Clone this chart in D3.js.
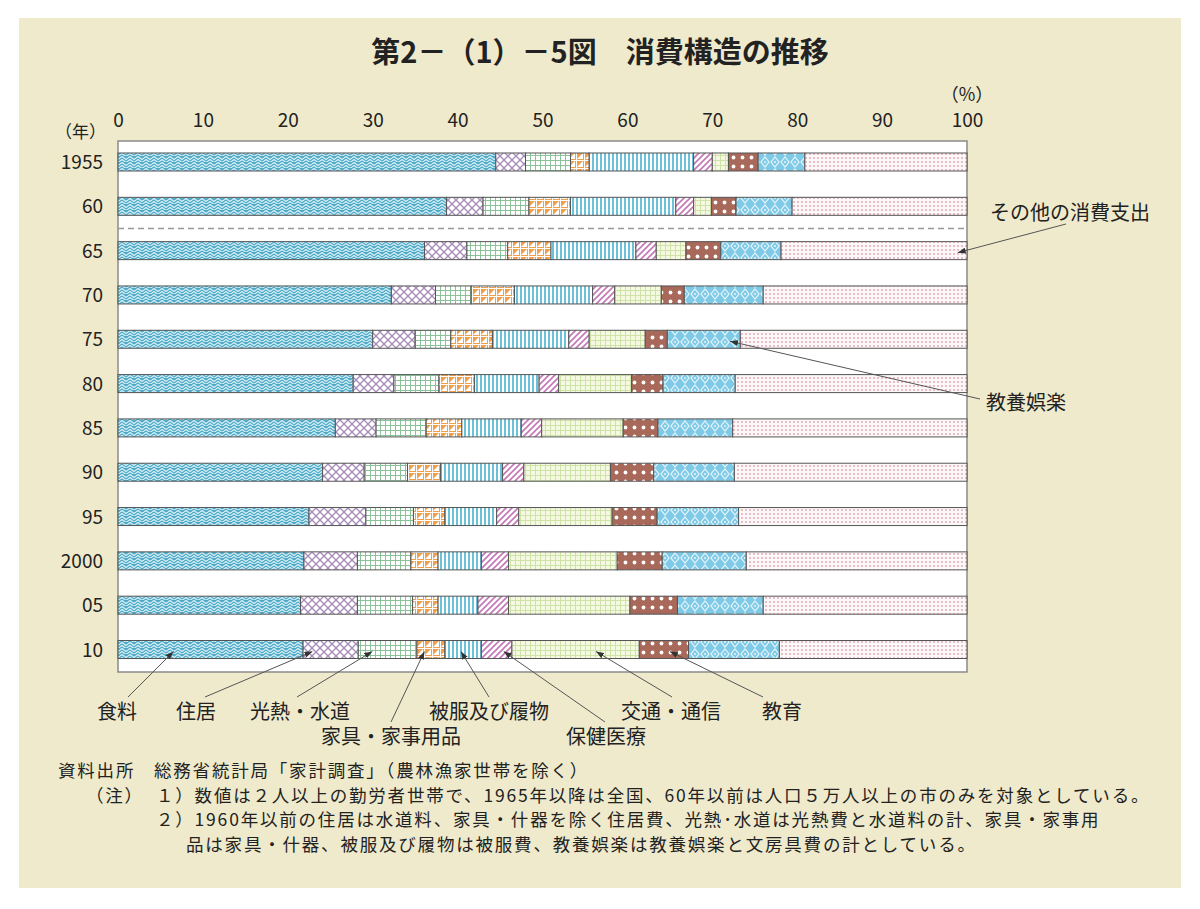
<!DOCTYPE html>
<html>
<head>
<meta charset="utf-8">
<script src="https://cdn.jsdelivr.net/npm/d3@7"></script>
<style>
  body { margin: 0; background: #fff; }
  svg text { font-family: "Noto Sans CJK JP", "Noto Sans", sans-serif; fill: #222; }
</style>
</head>
<body>
<svg id="chart" width="1200" height="909"></svg>
<script>
const years = ["1955", "60", "65", "70", "75", "80", "85", "90", "95", "2000", "05", "10"];
const categories = ["食料", "住居", "光熱・水道", "家具・家事用品", "被服及び履物", "保健医療", "交通・通信", "教育", "教養娯楽", "その他の消費支出"];

// shares of consumption (%)
const food      = [44.5, 38.7, 36.1, 32.2, 30.0, 27.7, 25.6, 24.1, 22.5, 21.9, 21.5, 21.8];
const housing   = [3.5, 4.3, 5.0, 5.2, 5.0, 4.8, 4.8, 4.9, 6.7, 6.3, 6.7, 6.5];
const fuel      = [5.3, 5.4, 4.8, 4.2, 4.2, 5.3, 5.9, 5.1, 5.6, 6.3, 6.5, 6.9];
const furniture = [2.2, 4.9, 5.1, 5.1, 4.9, 4.2, 4.2, 3.9, 3.7, 3.2, 3.0, 3.3];
const clothing  = [12.3, 12.4, 10.0, 9.2, 9.0, 7.6, 7.0, 7.3, 6.1, 5.1, 4.7, 4.3];
const health    = [2.2, 2.1, 2.4, 2.6, 2.4, 2.3, 2.4, 2.5, 2.6, 3.2, 3.6, 3.6];
const transport = [1.9, 2.1, 3.5, 5.5, 6.6, 8.6, 9.6, 10.2, 11.0, 12.8, 14.3, 15.0];
const education = [3.5, 2.9, 4.1, 2.7, 2.6, 3.7, 4.1, 5.1, 5.3, 5.3, 5.6, 5.8];
const culture   = [5.5, 6.6, 7.1, 9.3, 8.6, 8.5, 8.8, 9.5, 9.6, 9.9, 10.1, 10.7];
const other     = [19.1, 20.6, 21.9, 24.0, 26.7, 27.3, 27.6, 27.4, 26.9, 26.0, 24.0, 22.1];

const xTicks = [0, 10, 20, 30, 40, 50, 60, 70, 80, 90, 100];

const series = [food, housing, fuel, furniture, clothing, health, transport, education, culture, other];
const rows = years.map((y, i) => {
  const r = { year: y };
  categories.forEach((c, j) => r[c] = series[j][i]);
  return r;
});

const svg = d3.select("#chart");

// background panel
svg.append("rect").attr("x", 19).attr("y", 18).attr("width", 1162).attr("height", 870).attr("fill", "#efeacc");

// patterns
const defs = svg.append("defs");
function pat(id, w, h, draw) {
  const p = defs.append("pattern").attr("id", id).attr("patternUnits", "userSpaceOnUse")
    .attr("width", w).attr("height", h);
  draw(p);
}
pat("p0", 8, 6, p => {
  p.append("rect").attr("width", 8).attr("height", 6).attr("fill", "#4eaac8");
  p.append("path").attr("d", "M0 2 L2 0.5 L4 2 L6 3.5 L8 2").attr("fill", "none").attr("stroke", "#d8f0f7").attr("stroke-width", 1.3);
  p.append("path").attr("d", "M0 5 L2 3.5 L4 5 L6 6.5 L8 5").attr("fill", "none").attr("stroke", "#d8f0f7").attr("stroke-width", 1.3);
});
pat("p1", 8, 8, p => {
  p.append("rect").attr("width", 8).attr("height", 8).attr("fill", "#fff");
  p.append("path").attr("d", "M0 0 L8 8 M8 0 L0 8").attr("stroke", "#a68ab8").attr("stroke-width", 1.3);
});
pat("p2", 5, 5, p => {
  p.append("rect").attr("width", 5).attr("height", 5).attr("fill", "#fff");
  p.append("path").attr("d", "M0 0.5 H5 M0.5 0 V5").attr("stroke", "#8cc29a").attr("stroke-width", 1);
});
pat("p3", 8, 8, p => {
  p.append("rect").attr("width", 8).attr("height", 8).attr("fill", "#f0a048");
  p.append("path").attr("d", "M1 7 L7 1 L7 7 Z").attr("fill", "#fff");
  p.append("path").attr("d", "M0 0.5 H8 M0.5 0 V8").attr("stroke", "#fff").attr("stroke-width", 1);
});
pat("p4", 4, 4, p => {
  p.append("rect").attr("width", 4).attr("height", 4).attr("fill", "#fff");
  p.append("rect").attr("width", 2).attr("height", 4).attr("fill", "#6cc0d8");
});
pat("p5", 6, 6, p => {
  p.append("rect").attr("width", 6).attr("height", 6).attr("fill", "#fff");
  p.append("path").attr("d", "M-1 7 L7 -1 M-4 4 L4 -4 M2 10 L10 2").attr("stroke", "#c576b6").attr("stroke-width", 1.6);
});
pat("p6", 5, 5, p => {
  p.append("rect").attr("width", 5).attr("height", 5).attr("fill", "#f6f9e2");
  p.append("path").attr("d", "M0 0.5 H5 M0.5 0 V5").attr("stroke", "#cfe2a8").attr("stroke-width", 1);
});
pat("p7", 9, 9, p => {
  p.append("rect").attr("width", 9).attr("height", 9).attr("fill", "#a8695a");
  p.append("circle").attr("cx", 4.5).attr("cy", 4.5).attr("r", 1.9).attr("fill", "#fff");
});
pat("p8", 10, 12, p => {
  p.append("rect").attr("width", 10).attr("height", 12).attr("fill", "#7fcae6");
  p.append("path").attr("d", "M5 1 L9 6 L5 11 L1 6 Z").attr("fill", "none").attr("stroke", "#e8f6fb").attr("stroke-width", 1.2);
  p.append("circle").attr("cx", 5).attr("cy", 6).attr("r", 1).attr("fill", "#e8f6fb");
});
pat("p9", 4, 4, p => {
  p.append("rect").attr("width", 4).attr("height", 4).attr("fill", "#fdf8f8");
  p.append("circle").attr("cx", 2).attr("cy", 2).attr("r", 0.9).attr("fill", "#e0a2b4");
});

defs.append("marker").attr("id", "arrow").attr("viewBox", "0 0 8 6")
  .attr("refX", 8).attr("refY", 3).attr("markerWidth", 8).attr("markerHeight", 6)
  .attr("markerUnits", "userSpaceOnUse").attr("orient", "auto")
  .append("path").attr("d", "M0 0 L8 3 L0 6 Z").attr("fill", "#333");

const x = d3.scaleLinear().domain([0, 100]).range([118, 967]);
const y = d3.scalePoint().domain(years).range([162, 649.5]);
const barH = 18;

// title
svg.append("text").attr("x", 600).attr("y", 63).attr("text-anchor", "middle")
  .attr("font-size", 29).attr("font-weight", "bold").text("第2－（1）－5図　消費構造の推移");

// plot box
svg.append("rect").attr("x", x(0)).attr("y", 141).attr("width", x(100) - x(0)).attr("height", 531)
  .attr("fill", "#fff").attr("stroke", "#8a8a8a").attr("stroke-width", 1.5);

// dashed separator between 60 and 65
const ySep = (y("60") + y("65")) / 2;
svg.append("line").attr("x1", x(0)).attr("x2", x(100)).attr("y1", ySep).attr("y2", ySep)
  .attr("stroke", "#999").attr("stroke-width", 1.5).attr("stroke-dasharray", "6,4");

// top axis
const axis = svg.append("g").attr("transform", "translate(0,127)")
  .call(d3.axisTop(x).tickValues(xTicks).tickSize(0).tickPadding(0));
axis.select(".domain").remove();
axis.selectAll("text").attr("font-size", 19).attr("font-family", "Noto Sans CJK JP, sans-serif").attr("fill", "#222");
svg.append("text").attr("x", x(100)).attr("y", 101).attr("text-anchor", "middle").attr("font-size", 18).text("（%）");

// year labels
svg.append("text").attr("x", 106).attr("y", 138).attr("text-anchor", "end").attr("font-size", 17).text("（年）");
svg.append("g").selectAll("text").data(years).join("text")
  .attr("x", 103).attr("y", d => y(d) + 7).attr("text-anchor", "end").attr("font-size", 19).text(d => d);

// stacked bars
const stacked = d3.stack().keys(categories)(rows);
svg.append("g").selectAll("g").data(stacked).join("g")
  .attr("fill", (d, i) => `url(#p${i})`)
  .selectAll("rect").data(d => d).join("rect")
  .attr("x", d => x(d[0])).attr("width", d => x(d[1]) - x(d[0]))
  .attr("y", d => y(d.data.year) - barH / 2).attr("height", barH)
  .attr("stroke", "#555").attr("stroke-width", 1);

// annotations: label placement and where on the segment the arrow lands
const bottomNotes = [
  { cat: "食料", lx: 117, line: 0, ox: 128, f: 0.30 },
  { cat: "住居", lx: 196, line: 0, ox: 205, f: 0.17 },
  { cat: "光熱・水道", lx: 300, line: 0, ox: 297, f: 0.24 },
  { cat: "家具・家事用品", lx: 391, line: 1, ox: 391, f: 0.27 },
  { cat: "被服及び履物", lx: 489, line: 0, ox: 489, f: 0.44 },
  { cat: "保健医療", lx: 606, line: 1, ox: 605, f: 0.73 },
  { cat: "交通・通信", lx: 671, line: 0, ox: 672, f: 0.66 },
  { cat: "教育", lx: 782, line: 0, ox: 763, f: 0.62 }
];
const sideNotes = [
  { cat: "その他の消費支出", year: "65", lx: 990, ly: 220, ox: 1066, oy: 224, f: 0.95 },
  { cat: "教養娯楽", year: "75", lx: 986, ly: 410, ox: 980, oy: 399, f: 0.86 }
];
function target(cat, year, f) {
  const s = stacked[categories.indexOf(cat)][years.indexOf(year)];
  return [x(s[0]) + f * (x(s[1]) - x(s[0])), y(year) + 2];
}
const ann = svg.append("g");
bottomNotes.forEach(n => {
  const [tx, ty] = target(n.cat, "10", n.f);
  const ly = n.line ? 744 : 719;
  ann.append("line").attr("x1", n.ox).attr("y1", ly - 22).attr("x2", tx).attr("y2", ty)
    .attr("stroke", "#555").attr("stroke-width", 1).attr("marker-end", "url(#arrow)");
  ann.append("text").attr("x", n.lx).attr("y", ly).attr("text-anchor", "middle").attr("font-size", 20).text(n.cat);
});
sideNotes.forEach(n => {
  const [tx, ty] = target(n.cat, n.year, n.f);
  ann.append("line").attr("x1", n.ox).attr("y1", n.oy).attr("x2", tx).attr("y2", ty)
    .attr("stroke", "#555").attr("stroke-width", 1).attr("marker-end", "url(#arrow)");
  ann.append("text").attr("x", n.lx).attr("y", n.ly).attr("font-size", 20).text(n.cat);
});

// source and notes
const notes = svg.append("g").attr("font-size", 17.5).attr("letter-spacing", 1.8);
notes.append("text").attr("x", 58).attr("y", 777).text("資料出所");
notes.append("text").attr("x", 154).attr("y", 777).text("総務省統計局「家計調査」（農林漁家世帯を除く）");
notes.append("text").attr("x", 86).attr("y", 801.5).text("（注）");
notes.append("text").attr("x", 156).attr("y", 801.5).text("１）数値は２人以上の勤労者世帯で、1965年以降は全国、60年以前は人口５万人以上の市のみを対象としている。");
notes.append("text").attr("x", 156).attr("y", 826).text("２）1960年以前の住居は水道料、家具・什器を除く住居費、光熱･水道は光熱費と水道料の計、家具・家事用");
notes.append("text").attr("x", 186).attr("y", 850.5).text("品は家具・什器、被服及び履物は被服費、教養娯楽は教養娯楽と文房具費の計としている。");
</script>
</body>
</html>
